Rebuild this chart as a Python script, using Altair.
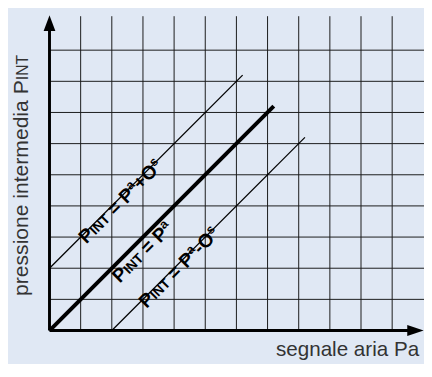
import re
import altair as alt
import pandas as pd

# ---------------- data ----------------
grid_x = [1, 2, 3, 4, 5, 6, 7, 8, 9, 10, 11]      # vertical grid lines
grid_y = [1, 2, 3, 4, 5, 6, 7, 8, 9]              # horizontal grid lines
grid_top = 10.09                                   # vertical lines reach up to here

line_id = ["plus", "main", "minus"]
line_x0 = [0.0, 0.0, 2.0]
line_y0 = [2.0, 0.0, 0.0]
line_x1 = [6.2, 7.2, 8.2]
line_y1 = [8.2, 7.2, 6.2]

# label of each line ( _{..} = small capitals, ^{..} = raised small letters )
label_text = ["P_{INT} = P^{a}+O^{s}", "P_{INT} = P^{a}", "P_{INT} = P^{a}-O^{s}"]
# where (along each line) its label starts
label_t = [0.97, 1.88, 0.9]
y_title = "pressione intermedia P_{INT}"
x_title = "segnale aria Pa"

# ---------------- layout / style ----------------
PAGE = 8                        # page margin: chart's top-left corner on the page
W, H = 424, 356
OX, OY, U = 50.3, 333.3, 31.75  # page position of the origin and size of one grid step
BG = "#E0E8F4"
FONT = "Liberation Sans"
NB = "\u00a0"
label_gap = [9.5, 17, 9.5]
LBL = {"big": 19.5, "sc": 14, "sup": 13}
SUP_RAISE = 7
TTL = {"big": 21.5, "sc": 16, "sup": 16}

def px2x(px):
    return (px - OX) / U

def px2y(py):
    return (OY - py) / U

BOLD = {"P": 667, "I": 278, "N": 722, "T": 611, " ": 278, NB: 278, "=": 584, "a": 556,
        "+": 584, "O": 778, "s": 556, "-": 333}
REG = {"p": 556, "r": 333, "e": 556, "s": 500, "i": 222, "o": 556, "n": 556, " ": 278, NB: 278,
       "t": 278, "m": 833, "d": 556, "a": 556, "P": 667, "I": 278, "N": 722, "T": 611,
       "g": 556, "l": 222}

def tw(s, size, bold):
    tab = BOLD if bold else REG
    return sum(tab.get(c, 556) for c in s) * size / 1000.0

def runs(markup, sizes, bold):
    """split markup into (text, kind, offset_along) pieces without leading/trailing spaces"""
    out = []
    cum = 0.0
    for tok in re.findall(r"_\{[^}]*\}|\^\{[^}]*\}|[^_^]+", markup):
        if tok.startswith("_{"):
            kind, txt = "sc", tok[2:-1]
        elif tok.startswith("^{"):
            kind, txt = "sup", tok[2:-1]
        else:
            kind, txt = "big", tok
        size = sizes[kind]
        lead = len(txt) - len(txt.lstrip(" "))
        cum += tw(" " * lead, size, bold)
        core = txt.strip(" ")
        if core:
            out.append((core.replace(" ", NB), kind, cum))
            cum += tw(core, size, bold)
        trail = len(txt) - len(txt.rstrip(" "))
        cum += tw(" " * trail, size, bold) if core else 0
    return out

xs = alt.Scale(domain=[px2x(PAGE), px2x(PAGE + W)], nice=False, zero=False)
ys = alt.Scale(domain=[px2y(PAGE + H), px2y(PAGE)], nice=False, zero=False)

def X(f):
    return alt.X(f, type="quantitative", scale=xs, axis=None)

def Y(f):
    return alt.Y(f, type="quantitative", scale=ys, axis=None)

layers = []

# grid
vdf = pd.DataFrame({"x": grid_x, "y0": 0.0, "y1": grid_top})
layers.append(alt.Chart(vdf).mark_rule(color="#1a1a1a", strokeWidth=1).encode(
    x=X("x"), y=Y("y0"), y2=alt.Y2("y1")))
hdf = pd.DataFrame({"y": grid_y, "x0": 0.0, "x1": px2x(PAGE + W)})
layers.append(alt.Chart(hdf).mark_rule(color="#1a1a1a", strokeWidth=1).encode(
    y=Y("y"), x=X("x0"), x2=alt.X2("x1")))

# axes
axdf = pd.DataFrame({"x0": [0.0], "x1": [px2x(416)], "y": [0.0]})
layers.append(alt.Chart(axdf).mark_rule(color="black", strokeWidth=3).encode(
    y=Y("y"), x=X("x0"), x2=alt.X2("x1")))
aydf = pd.DataFrame({"y0": [0.0], "y1": [px2y(27)], "x": [0.0]})
layers.append(alt.Chart(aydf).mark_rule(color="black", strokeWidth=3).encode(
    x=X("x"), y=Y("y0"), y2=alt.Y2("y1")))

# arrow heads
arx = pd.DataFrame({"x": [px2x(423.3)], "y": [0.0]})
layers.append(alt.Chart(arx).mark_point(shape="M-1,-0.66L1,0L-1,0.66Z", filled=True,
                                        size=279, color="black", opacity=1, strokeWidth=0).encode(
    x=X("x"), y=Y("y")))
ary = pd.DataFrame({"x": [0.0], "y": [px2y(20)]})
layers.append(alt.Chart(ary).mark_point(shape="M-0.75,1L0,-1L0.75,1Z", filled=True,
                                        size=256, color="black", opacity=1, strokeWidth=0).encode(
    x=X("x"), y=Y("y")))

# characteristic lines
ldf = pd.DataFrame({"id": line_id, "x0": line_x0, "y0": line_y0, "x1": line_x1, "y1": line_y1})
for i, lid in enumerate(line_id):
    sw = 4 if lid == "main" else 1.3
    layers.append(alt.Chart(ldf[ldf["id"] == lid]).mark_rule(color="black", strokeWidth=sw,
                                                            strokeCap="butt").encode(
        x=X("x0"), y=Y("y0"), x2=alt.X2("x1"), y2=alt.Y2("y1")))

# labels along lines (rotated 45 deg)
for i, markup in enumerate(label_text):
    ax = line_x0[i] + label_t[i]
    ay = line_y0[i] + label_t[i]
    for text, kind, off in runs(markup, LBL, True):
        dy = label_gap[i] - (SUP_RAISE if kind == "sup" else 0)
        pdf = pd.DataFrame({"x": [ax], "y": [ay], "t": [text]})
        layers.append(alt.Chart(pdf).mark_text(
            angle=315, align="left", baseline="alphabetic", dx=off, dy=dy,
            font=FONT, fontSize=LBL[kind], fontWeight="bold", color="black").encode(
            x=X("x"), y=Y("y"), text="t:N"))

# y title (rotated, reading upward)
for text, kind, off in runs(y_title, TTL, False):
    pdf = pd.DataFrame({"x": [px2x(28.5)], "y": [px2y(298)], "t": [text]})
    layers.append(alt.Chart(pdf).mark_text(
        angle=270, align="left", baseline="alphabetic", dx=off,
        font=FONT, fontSize=TTL[kind], color="#333333").encode(
        x=X("x"), y=Y("y"), text="t:N"))

# x title
xt = pd.DataFrame({"x": [px2x(427)], "y": [px2y(359)], "t": [x_title]})
layers.append(alt.Chart(xt).mark_text(
    align="right", baseline="alphabetic", font=FONT, fontSize=21, color="#333333").encode(
    x=X("x"), y=Y("y"), text="t:N"))

chart = alt.layer(*layers).properties(
    width=W, height=H, padding=0, autosize="none", background=BG,
).configure_view(stroke=None)

chart.save("out.html", embed_options={"renderer": "svg", "actions": False})
